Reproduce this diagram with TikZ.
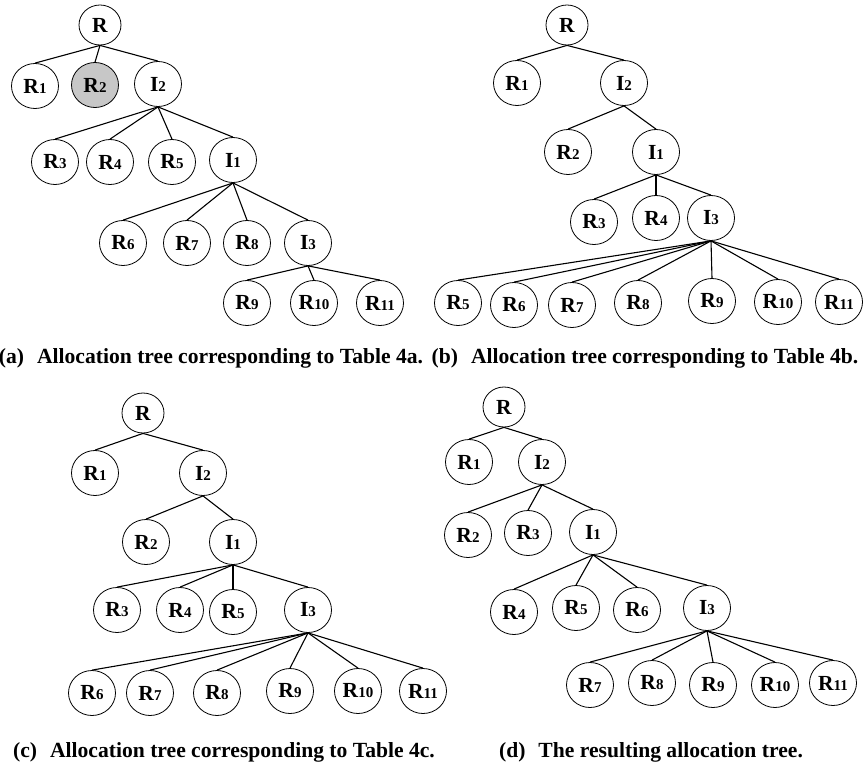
\documentclass[tikz,border=0pt]{standalone}
\usepackage{fontspec}
\setmainfont{Liberation Serif}
\usetikzlibrary{shapes.geometric}
\newcommand\rlab[2]{#1{\fontsize{15}{15}\selectfont #2}}
\tikzset{
  tn/.style={draw, ellipse, minimum width=47pt, minimum height=45pt, inner sep=0pt,
    line width=0.8pt, font=\bfseries\fontsize{21.5}{21.5}\selectfont},
  rootn/.style={tn, minimum width=42pt, minimum height=40pt},
  hot/.style={fill=black!22},
  edge/.style={line width=1.1pt},
  captxt/.style={font=\bfseries\fontsize{21.6}{21.6}\selectfont, inner sep=0pt}
}
\begin{document}
\begin{tikzpicture}[x=1pt,y=-1pt]
\useasboundingbox (0,0) rectangle (864,771);
% ---------- (a)
\node[rootn] (Ra) at (100,25) {R};
\node[tn] (a1) at (35,86) {\rlab{R}{1}};
\node[tn,hot] (a2) at (95,85) {\rlab{R}{2}};
\node[tn] (aI2) at (158,84) {\rlab{I}{2}};
\node[tn] (a3) at (55,162) {\rlab{R}{3}};
\node[tn] (a4) at (110,162) {\rlab{R}{4}};
\node[tn] (a5) at (172,162) {\rlab{R}{5}};
\node[tn] (aI1) at (233,160) {\rlab{I}{1}};
\node[tn] (a6) at (123,243) {\rlab{R}{6}};
\node[tn] (a7) at (187,243) {\rlab{R}{7}};
\node[tn] (a8) at (247,243) {\rlab{R}{8}};
\node[tn] (aI3) at (308,243) {\rlab{I}{3}};
\node[tn] (a9) at (247,303) {\rlab{R}{9}};
\node[tn] (a10) at (314,303) {\rlab{R}{10}};
\node[tn] (a11) at (380,303) {\rlab{R}{11}};
\foreach \c in {a1,a2,aI2} \draw[edge] (Ra.south) -- (\c.north);
\foreach \c in {a3,a4,a5,aI1} \draw[edge] (aI2.south) -- (\c.north);
\foreach \c in {a6,a7,a8,aI3} \draw[edge] (aI1.south) -- (\c.north);
\foreach \c in {a9,a10,a11} \draw[edge] (aI3.south) -- (\c.north);
\node[captxt] (capa) at (211,358) {(a)\hspace{0.6em}Allocation tree corresponding to Table 4a.};
% ---------- (b)
\node[rootn] (Rb) at (567,25) {R};
\node[tn] (b1) at (517,83) {\rlab{R}{1}};
\node[tn] (bI2) at (624,83) {\rlab{I}{2}};
\node[tn] (b2) at (568,152) {\rlab{R}{2}};
\node[tn] (bI1) at (656,152) {\rlab{I}{1}};
\node[tn] (b3) at (594,222) {\rlab{R}{3}};
\node[tn] (b4) at (656,218) {\rlab{R}{4}};
\node[tn] (bI3) at (711,218) {\rlab{I}{3}};
\node[tn] (b5) at (458,303) {\rlab{R}{5}};
\node[tn] (b6) at (514,305) {\rlab{R}{6}};
\node[tn] (b7) at (572,305) {\rlab{R}{7}};
\node[tn] (b8) at (638,303) {\rlab{R}{8}};
\node[tn] (b9) at (712,301) {\rlab{R}{9}};
\node[tn] (b10) at (778,302) {\rlab{R}{10}};
\node[tn] (b11) at (839,302) {\rlab{R}{11}};
\foreach \c in {b1,bI2} \draw[edge] (Rb.south) -- (\c.north);
\foreach \c in {b2,bI1} \draw[edge] (bI2.south) -- (\c.north);
\foreach \c in {b3,b4,bI3} \draw[edge] (bI1.south) -- (\c.north);
\foreach \c in {b5,b6,b7,b8,b9,b10,b11} \draw[edge] (bI3.south) -- (\c.north);
\node[captxt] (capb) at (645,358) {(b)\hspace{0.6em}Allocation tree corresponding to Table 4b.};
% ---------- (c)
\node[rootn] (Rc) at (143,413) {R};
\node[tn] (c1) at (95,473) {\rlab{R}{1}};
\node[tn] (cI2) at (203,473) {\rlab{I}{2}};
\node[tn] (c2) at (146,542) {\rlab{R}{2}};
\node[tn] (cI1) at (233,542) {\rlab{I}{1}};
\node[tn] (c3) at (117,610) {\rlab{R}{3}};
\node[tn] (c4) at (180,610) {\rlab{R}{4}};
\node[tn] (c5) at (233,612) {\rlab{R}{5}};
\node[tn] (cI3) at (308,610) {\rlab{I}{3}};
\node[tn] (c6) at (92,693) {\rlab{R}{6}};
\node[tn] (c7) at (150,693) {\rlab{R}{7}};
\node[tn] (c8) at (217,693) {\rlab{R}{8}};
\node[tn] (c9) at (290,691) {\rlab{R}{9}};
\node[tn] (c10) at (358,691) {\rlab{R}{10}};
\node[tn] (c11) at (423,691) {\rlab{R}{11}};
\foreach \c in {c1,cI2} \draw[edge] (Rc.south) -- (\c.north);
\foreach \c in {c2,cI1} \draw[edge] (cI2.south) -- (\c.north);
\foreach \c in {c3,c4,c5,cI3} \draw[edge] (cI1.south) -- (\c.north);
\foreach \c in {c6,c7,c8,c9,c10,c11} \draw[edge] (cI3.south) -- (\c.north);
\node[captxt] (capc) at (224,752) {(c)\hspace{0.6em}Allocation tree corresponding to Table 4c.};
% ---------- (d)
\node[rootn] (Rd) at (504,407) {R};
\node[tn] (d1) at (469,462) {\rlab{R}{1}};
\node[tn] (dI2) at (542,462) {\rlab{I}{2}};
\node[tn] (d2) at (468,535) {\rlab{R}{2}};
\node[tn] (d3) at (528,533) {\rlab{R}{3}};
\node[tn] (dI1) at (593,532) {\rlab{I}{1}};
\node[tn] (d4) at (514,612) {\rlab{R}{4}};
\node[tn] (d5) at (576,608) {\rlab{R}{5}};
\node[tn] (d6) at (637,610) {\rlab{R}{6}};
\node[tn] (dI3) at (707,608) {\rlab{I}{3}};
\node[tn] (d7) at (590,685) {\rlab{R}{7}};
\node[tn] (d8) at (652,683) {\rlab{R}{8}};
\node[tn] (d9) at (713,685) {\rlab{R}{9}};
\node[tn] (d10) at (775,685) {\rlab{R}{10}};
\node[tn] (d11) at (833,683) {\rlab{R}{11}};
\foreach \c in {d1,dI2} \draw[edge] (Rd.south) -- (\c.north);
\foreach \c in {d2,d3,dI1} \draw[edge] (dI2.south) -- (\c.north);
\foreach \c in {d4,d5,d6,dI3} \draw[edge] (dI1.south) -- (\c.north);
\foreach \c in {d7,d8,d9,d10,d11} \draw[edge] (dI3.south) -- (\c.north);
\node[captxt] (capd) at (651,752) {(d)\hspace{0.6em}The resulting allocation tree.};
\end{tikzpicture}
\end{document}
